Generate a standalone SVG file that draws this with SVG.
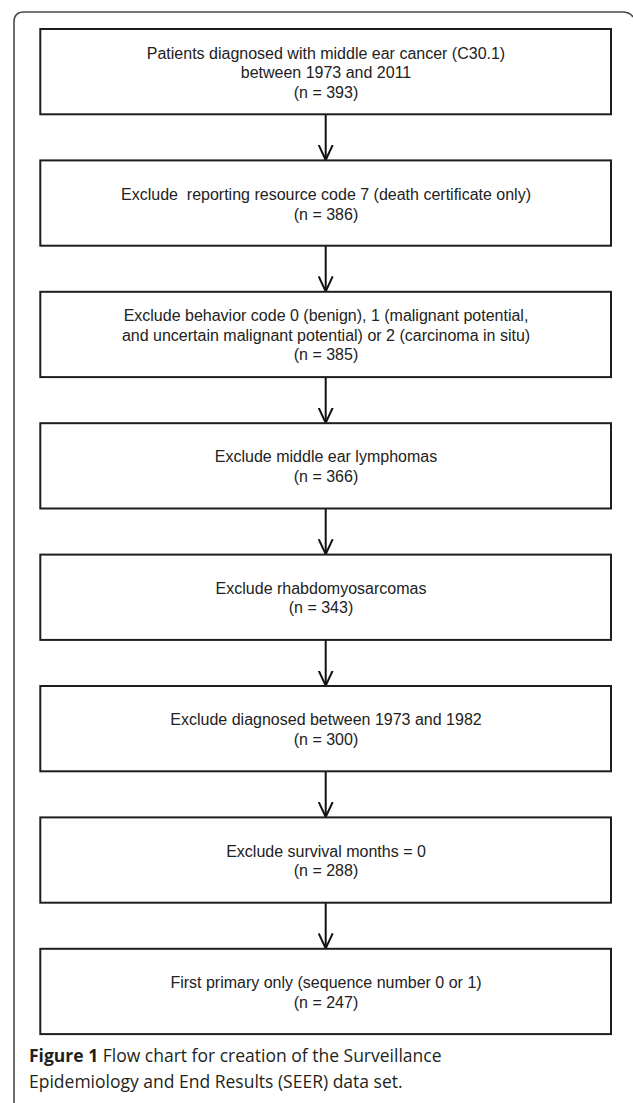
<svg xmlns="http://www.w3.org/2000/svg" width="633" height="1103" viewBox="0 0 633 1103">
  <defs>
    <style>
      .box { fill: #ffffff; stroke: #1e1e1e; stroke-width: 2; }
      .t { font-family: "Liberation Sans", Arial, sans-serif; font-size: 16px; fill: #222222; text-anchor: middle; }
      .conn { stroke: #111111; stroke-width: 2; fill: none; }
      .cap { font-family: "Open Sans", "Noto Sans", sans-serif; font-size: 17.5px; fill: #231f20; }
      .frame { fill: none; stroke: #4a4a4a; stroke-width: 1.6; }
    </style>
    <marker id="vhead" viewBox="0 0 16 16" refX="15" refY="8" markerWidth="16" markerHeight="16" markerUnits="userSpaceOnUse" orient="auto">
      <path d="M0,1 L15,8 L0,15" fill="none" stroke="#111111" stroke-width="2"/>
    </marker>
  </defs>
  <rect x="0" y="0" width="633" height="1103" fill="#ffffff"/>
  <path class="frame" d="M14,1103 L14,22 Q14,12 24,12 L622,12 Q630,12 633,17"/>

  <g id="connectors">
    <line class="conn" x1="325.7" y1="114.3" x2="325.7" y2="160" marker-end="url(#vhead)"/>
    <line class="conn" x1="325.7" y1="245.7" x2="325.7" y2="291.4" marker-end="url(#vhead)"/>
    <line class="conn" x1="325.7" y1="377.1" x2="325.7" y2="422.8" marker-end="url(#vhead)"/>
    <line class="conn" x1="325.7" y1="508.5" x2="325.7" y2="554.2" marker-end="url(#vhead)"/>
    <line class="conn" x1="325.7" y1="639.9" x2="325.7" y2="685.6" marker-end="url(#vhead)"/>
    <line class="conn" x1="325.7" y1="771.3" x2="325.7" y2="817" marker-end="url(#vhead)"/>
    <line class="conn" x1="325.7" y1="902.7" x2="325.7" y2="948.4" marker-end="url(#vhead)"/>
  </g>

  <g id="node1">
    <rect class="box" x="40.3" y="29" width="570.7" height="85.3"/>
    <text class="t" x="326" y="58.5">Patients diagnosed with middle ear cancer (C30.1)</text>
    <text class="t" x="326" y="78">between 1973 and 2011</text>
    <text class="t" x="326" y="97.5">(n = 393)</text>
  </g>
  <g id="node2">
    <rect class="box" x="40.3" y="160.4" width="570.7" height="85.3"/>
    <text class="t" x="326" y="200">Exclude&#160; reporting resource code 7 (death certificate only)</text>
    <text class="t" x="326" y="219.5">(n = 386)</text>
  </g>
  <g id="node3">
    <rect class="box" x="40.3" y="291.8" width="570.7" height="85.3"/>
    <text class="t" x="326" y="321">Exclude behavior code 0 (benign), 1 (malignant potential,</text>
    <text class="t" x="326" y="340.5">and uncertain malignant potential) or 2 (carcinoma in situ)</text>
    <text class="t" x="326" y="360">(n = 385)</text>
  </g>
  <g id="node4">
    <rect class="box" x="40.3" y="423.2" width="570.7" height="85.3"/>
    <text class="t" x="326" y="462">Exclude middle ear lymphomas</text>
    <text class="t" x="326" y="481.5">(n = 366)</text>
  </g>
  <g id="node5">
    <rect class="box" x="40.3" y="554.6" width="570.7" height="85.3"/>
    <text class="t" x="321" y="593.5">Exclude rhabdomyosarcomas</text>
    <text class="t" x="321" y="613">(n = 343)</text>
  </g>
  <g id="node6">
    <rect class="box" x="40.3" y="686" width="570.7" height="85.3"/>
    <text class="t" x="326" y="725">Exclude diagnosed between 1973 and 1982</text>
    <text class="t" x="326" y="744.5">(n = 300)</text>
  </g>
  <g id="node7">
    <rect class="box" x="40.3" y="817.4" width="570.7" height="85.3"/>
    <text class="t" x="326" y="856.5">Exclude survival months = 0</text>
    <text class="t" x="326" y="876">(n = 288)</text>
  </g>
  <g id="node8">
    <rect class="box" x="40.3" y="948.8" width="570.7" height="85.3"/>
    <text class="t" x="326" y="988">First primary only (sequence number 0 or 1)</text>
    <text class="t" x="326" y="1007.5">(n = 247)</text>
  </g>

  <g id="caption">
    <text class="cap" x="29" y="1062"><tspan font-weight="bold">Figure 1</tspan> Flow chart for creation of the Surveillance</text>
    <text class="cap" x="29" y="1088">Epidemiology and End Results (SEER) data set.</text>
  </g>
</svg>
